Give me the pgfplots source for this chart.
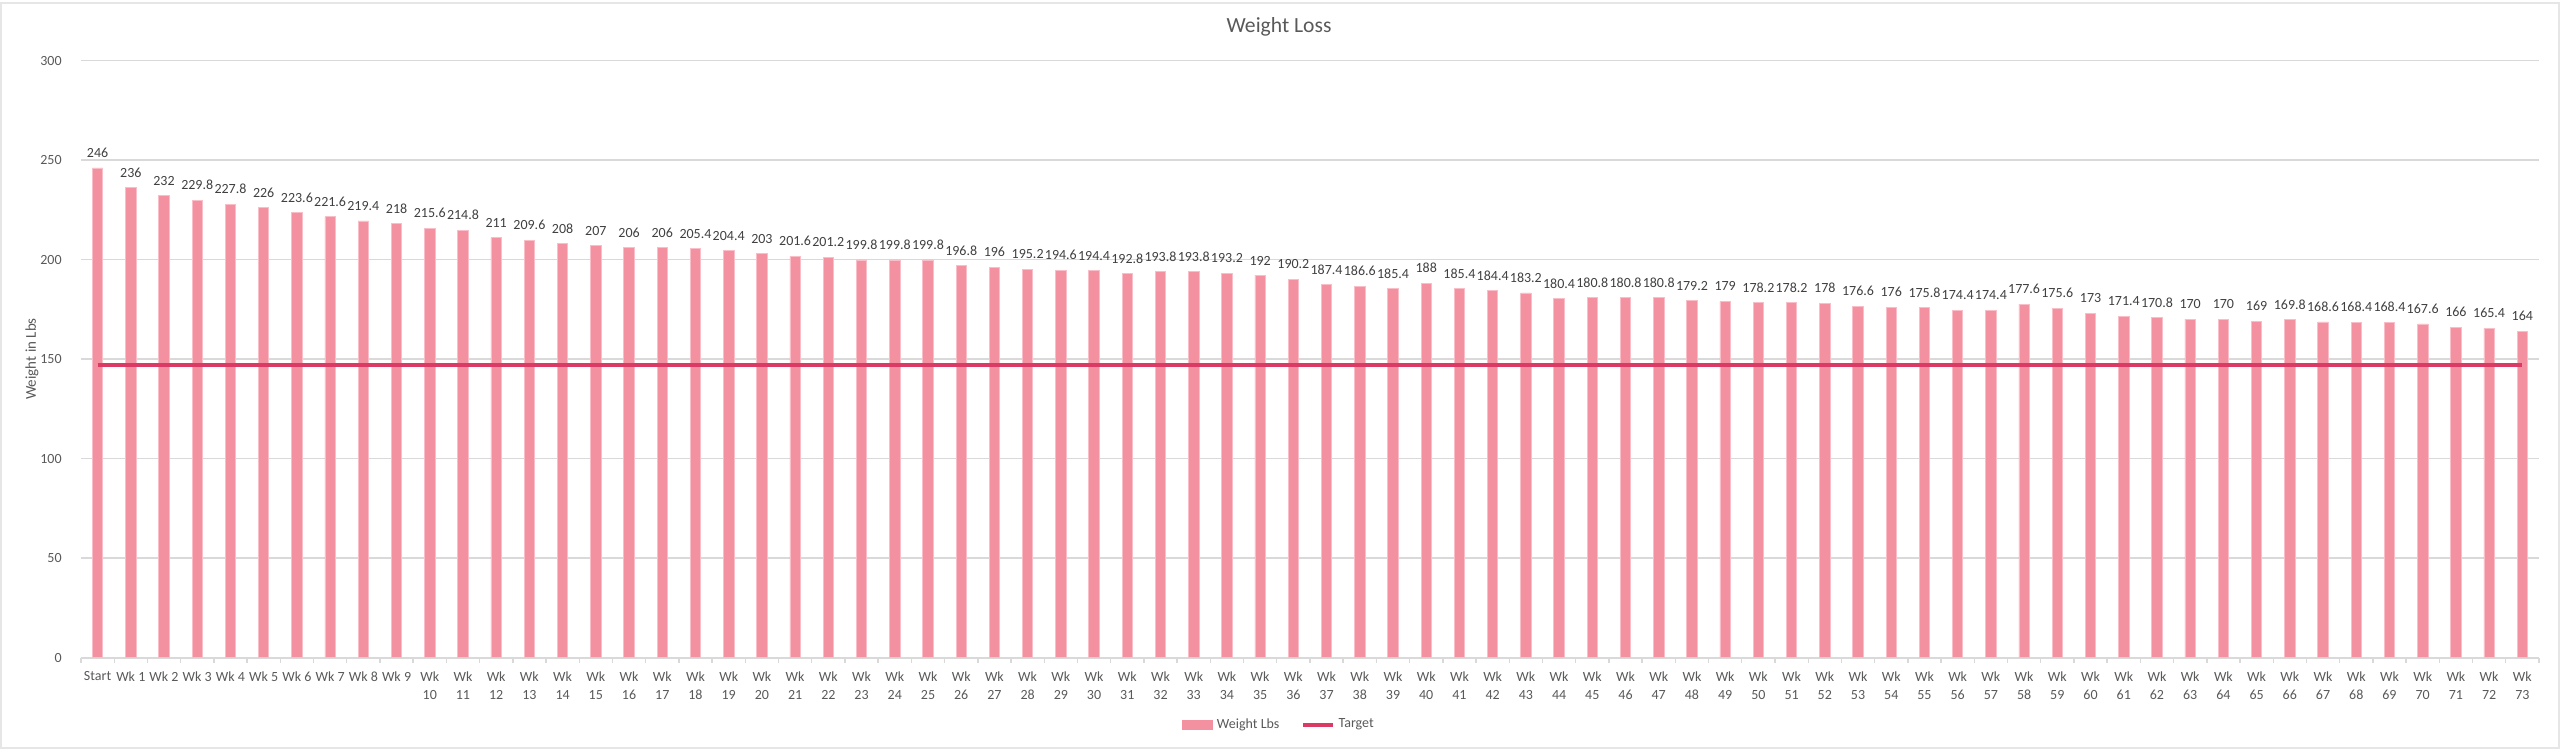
\documentclass[border=0pt]{standalone}
\usepackage{fontspec}
\setmainfont{Carlito}
\usepackage{pgfplots}
\pgfplotsset{compat=1.18}

\definecolor{barpink}{RGB}{244,145,160}
\definecolor{baredge}{RGB}{249,190,199}
\definecolor{targetred}{RGB}{218,58,100}
\definecolor{gridgray}{RGB}{217,217,217}
\definecolor{ticktext}{RGB}{89,89,89}
\definecolor{labeltext}{RGB}{64,64,64}
\definecolor{framegray}{RGB}{230,230,230}

\begin{document}
\begin{tikzpicture}
\useasboundingbox (0,0) rectangle (1280pt,376pt);
\draw[framegray, line width=1pt] (0.5pt,2pt) rectangle (1279.5pt,374.5pt);

\begin{axis}[
    at={(40.5pt,47.25pt)}, anchor=south west,
    scale only axis,
    width=1229pt, height=298.5pt,
    xmin=-0.5, xmax=73.5,
    ymin=0, ymax=300,
    ytick={0,50,...,300},
    xtick={-0.5,0.5,...,73.5},
    x tick label as interval,
    xticklabels={Start,Wk 1,Wk 2,Wk 3,Wk 4,Wk 5,Wk 6,Wk 7,Wk 8,Wk 9,
      {Wk\\10},{Wk\\11},{Wk\\12},{Wk\\13},{Wk\\14},{Wk\\15},{Wk\\16},{Wk\\17},{Wk\\18},{Wk\\19},
      {Wk\\20},{Wk\\21},{Wk\\22},{Wk\\23},{Wk\\24},{Wk\\25},{Wk\\26},{Wk\\27},{Wk\\28},{Wk\\29},
      {Wk\\30},{Wk\\31},{Wk\\32},{Wk\\33},{Wk\\34},{Wk\\35},{Wk\\36},{Wk\\37},{Wk\\38},{Wk\\39},
      {Wk\\40},{Wk\\41},{Wk\\42},{Wk\\43},{Wk\\44},{Wk\\45},{Wk\\46},{Wk\\47},{Wk\\48},{Wk\\49},
      {Wk\\50},{Wk\\51},{Wk\\52},{Wk\\53},{Wk\\54},{Wk\\55},{Wk\\56},{Wk\\57},{Wk\\58},{Wk\\59},
      {Wk\\60},{Wk\\61},{Wk\\62},{Wk\\63},{Wk\\64},{Wk\\65},{Wk\\66},{Wk\\67},{Wk\\68},{Wk\\69},
      {Wk\\70},{Wk\\71},{Wk\\72},{Wk\\73},{}},
    xticklabel style={align=center, font=\fontsize{7}{9}\selectfont, text=ticktext,
      inner sep=0pt, anchor=north, yshift=-4.5pt},
    yticklabel style={font=\fontsize{7}{8}\selectfont, text=ticktext,
      inner sep=0pt, anchor=east, xshift=-7pt},
    /pgf/number format/assume math mode=true,
    axis x line*=bottom,
    axis y line*=left,
    x axis line style={draw=gridgray, line width=1pt, -},
    y axis line style={draw=none},
    tick align=outside,
    major tick length=2.5pt,
    xtick style={draw=gridgray, line width=0.7pt},
    ytick style={draw=none},
    ymajorgrids=true,
    grid style={draw=gridgray, line width=0.7pt},
    clip=false,
    legend columns=2,
    legend style={at={(0.4878,-0.113)}, anchor=center, draw=none, fill=none,
      font=\fontsize{7}{8}\selectfont, text=ticktext,
      /tikz/every even column/.append style={column sep=9pt}},
]

\addplot[
    ybar, bar width=5.2pt,
    fill=barpink, draw=baredge, line width=0.4pt,
    legend image code/.code={\fill[barpink] (0pt,-2.2pt) rectangle (15pt,2.2pt);},
    nodes near coords,
    every node near coord/.append style={font=\fontsize{7}{8}\selectfont,
      text=labeltext, inner sep=0pt, anchor=south, yshift=5pt},
    /pgf/number format/fixed,
    /pgf/number format/precision=1
    ]
    coordinates {
    (0,246)(1,236)(2,232)(3,229.8)(4,227.8)(5,226)(6,223.6)(7,221.6)(8,219.4)(9,218)
    (10,215.6)(11,214.8)(12,211)(13,209.6)(14,208)(15,207)(16,206)(17,206)(18,205.4)(19,204.4)
    (20,203)(21,201.6)(22,201.2)(23,199.8)(24,199.8)(25,199.8)(26,196.8)(27,196)(28,195.2)(29,194.6)
    (30,194.4)(31,192.8)(32,193.8)(33,193.8)(34,193.2)(35,192)(36,190.2)(37,187.4)(38,186.6)(39,185.4)
    (40,188)(41,185.4)(42,184.4)(43,183.2)(44,180.4)(45,180.8)(46,180.8)(47,180.8)(48,179.2)(49,179)
    (50,178.2)(51,178.2)(52,178)(53,176.6)(54,176)(55,175.8)(56,174.4)(57,174.4)(58,177.6)(59,175.6)
    (60,173)(61,171.4)(62,170.8)(63,170)(64,170)(65,169)(66,169.8)(67,168.6)(68,168.4)(69,168.4)
    (70,167.6)(71,166)(72,165.4)(73,164)
    };

\addplot[
    color=targetred, line width=1.6pt, mark=none, sharp plot,
    legend image code/.code={\draw[targetred, line width=1.6pt] (0pt,0pt) -- (15pt,0pt);}
    ]
    coordinates {
    (0,147)(73,147)
    };

\legend{Weight Lbs, Target}
\end{axis}

\node[font=\fontsize{10.8}{13}\selectfont, text=ticktext] at (639.5pt,362.5pt) {Weight Loss};
\node[font=\fontsize{7.5}{9}\selectfont, text=ticktext, rotate=90] at (16pt,196.5pt) {Weight in Lbs};
\end{tikzpicture}
\end{document}
